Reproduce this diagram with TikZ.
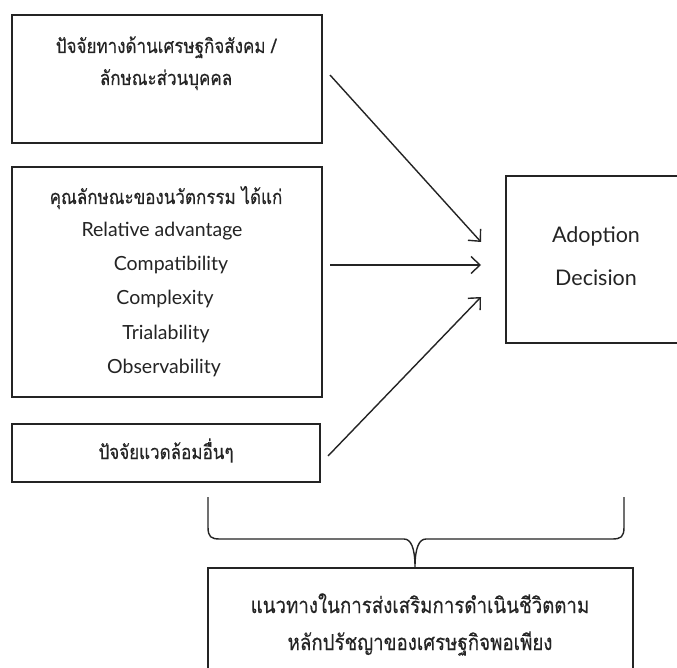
\documentclass[tikz,border=0pt]{standalone}
\usepackage{fontspec}
\setmainfont[Script=Thai, FakeStretch=0.85, FakeBold=0.3]{Loma}
\newfontfamily\latinfont{Lato}
\usetikzlibrary{arrows.meta}
\definecolor{ink}{HTML}{242424}
\begin{document}
\begin{tikzpicture}[x=1pt,y=-1pt,
  box/.style={draw=ink, line width=1.5pt, rectangle, inner sep=0pt},
  bigbox/.style={draw=ink, line width=2.8pt, rectangle, inner sep=0pt},
  txt/.style={anchor=base, inner sep=0pt, text=ink, font=\fontsize{20}{23}\selectfont},
  midtxt/.style={txt, font=\fontsize{20}{23}\selectfont},
  bigtxt/.style={txt, font=\fontsize{22}{26}\selectfont},
  lat/.style={txt, font=\latinfont\fontsize{19.5}{23}\selectfont},
  adtxt/.style={txt, font=\latinfont\fontsize{21.5}{25}\selectfont},
  conn/.style={draw=ink, line width=1.4pt, -{Straight Barb[length=9pt,width=17pt,line width=1.4pt]}},
  bracepath/.style={draw=ink, line width=1.4pt}]
\clip (0,0) rectangle (677,668);
\fill[white] (0,0) rectangle (677,668);

% boxes
\node[box, minimum width=310pt, minimum height=128pt] (b1) at (167,79) {};
\node[box, minimum width=310pt, minimum height=230pt] (b2) at (167,282) {};
\node[box, minimum width=308pt, minimum height=58pt] (b3) at (166,453) {};
\node[bigbox, minimum width=200pt, minimum height=167pt] (ad) at (606,259.5) {};
\node[box, minimum width=425pt, minimum height=132pt] (g) at (420.5,634) {};

% texts
\node[txt] (t1a) at (166,53) {ปัจจัยทางด้านเศรษฐกิจสังคม /};
\node[txt] (t1b) at (166,85) {ลักษณะส่วนบุคคล};
\node[txt] (t2a) at (166,204) {คุณลักษณะของนวัตกรรม ได้แก่};
\node[lat] (t2b) at (162,237) {Relative advantage};
\node[lat] (t2c) at (171,271) {Compatibility};
\node[lat] (t2d) at (165,305) {Complexity};
\node[lat] (t2e) at (166,339) {Trialability};
\node[lat] (t2f) at (164,373) {Observability};
\node[midtxt] (t3) at (166,459) {ปัจจัยแวดล้อมอื่นๆ};
\node[adtxt] (ta1) at (596,243) {Adoption};
\node[adtxt] (ta2) at (596,286) {Decision};
\node[bigtxt] (tg1) at (420,613) {แนวทางในการส่งเสริมการดำเนินชีวิตตาม};
\node[bigtxt] (tg2) at (420,650) {หลักปรัชญาของเศรษฐกิจพอเพียง};

% arrow ends
\coordinate (s1) at (330,75);
\coordinate (s2) at (330,265);
\coordinate (s3) at (328,456);
\coordinate (e1) at (481,242);
\coordinate (e2) at (481,265);
\coordinate (e3) at (481,297);
\draw[conn] (s1) -- (e1);
\draw[conn] (s2) -- (e2);
\draw[conn] (s3) -- (e3);

% brace
\coordinate (bl) at (208,497);
\coordinate (br) at (624,497);
\draw[bracepath] (bl) -- (208,527) .. controls (208,537) and (211,539) .. (220,539)
  -- (404,539) .. controls (411,539) and (415,548) .. (g.north -| 415,0)
  .. controls (415,548) and (419,539) .. (426,539)
  -- (612,539) .. controls (621,539) and (624,537) .. (624,527) -- (br);
\end{tikzpicture}
\end{document}
